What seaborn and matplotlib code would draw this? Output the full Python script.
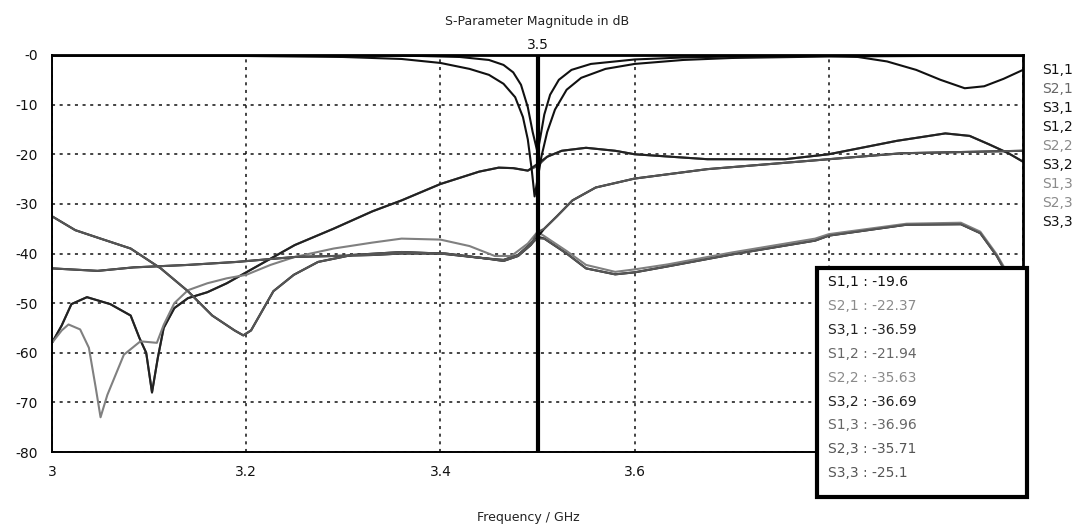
import matplotlib
matplotlib.use("Agg")
import matplotlib.pyplot as plt
import matplotlib.transforms as mtransforms
from matplotlib.patches import Rectangle
import pandas as pd
import seaborn as sns

# ---- S-parameter traces (frequency in GHz, magnitude in dB) ----
freq_s11 = [3.0, 3.2, 3.3, 3.38, 3.42, 3.45, 3.465, 3.475, 3.483, 3.49,
            3.495, 3.5, 3.503, 3.507, 3.513, 3.522, 3.535, 3.555, 3.6, 3.65,
            3.7, 3.8, 3.83, 3.86, 3.89, 3.915, 3.94, 3.96, 3.98, 4.0]
s11_db = [-0.1, -0.1, -0.1, -0.2, -0.4, -1.0, -2.0, -3.5, -6.0, -10.5,
          -15.5, -19.6, -16.5, -12.0, -8.0, -5.0, -3.0, -1.8, -0.9, -0.5,
          -0.3, -0.2, -0.4, -1.3, -3.0, -5.0, -6.7, -6.3, -4.8, -3.0]

freq_s33 = [3.0, 3.2, 3.3, 3.36, 3.40, 3.43, 3.45, 3.465, 3.477, 3.485,
            3.49, 3.494, 3.497, 3.5, 3.504, 3.51, 3.518, 3.53, 3.545, 3.57,
            3.6, 3.65, 3.7, 3.8, 3.9, 4.0]
s33_db = [-0.1, -0.2, -0.4, -0.8, -1.6, -2.8, -4.0, -5.8, -8.5, -12.5,
          -17.0, -23.0, -28.5, -25.1, -20.5, -15.5, -11.0, -7.0, -4.6, -2.8,
          -1.8, -1.0, -0.6, -0.3, -0.2, -0.2]

freq_s21 = [3.0, 3.01, 3.02, 3.036, 3.06, 3.081, 3.09, 3.097, 3.103, 3.109,
            3.115, 3.126, 3.14, 3.16, 3.18, 3.2, 3.23, 3.25, 3.29, 3.33,
            3.36, 3.4, 3.44, 3.46, 3.475, 3.49, 3.5, 3.51, 3.525, 3.55,
            3.58, 3.6, 3.675, 3.755, 3.8, 3.87, 3.92, 3.945, 3.965, 3.985,
            4.0]
s21_db = [-58, -54.5, -50.2, -48.8, -50.2, -52.5, -57, -60, -68, -61,
          -55, -51, -49, -47.8, -46, -43.8, -40.5, -38.3, -35, -31.5,
          -29.3, -26, -23.5, -22.7, -22.8, -23.3, -22.37, -20.5, -19.3, -18.7,
          -19.3, -20, -21, -21, -20, -17.3, -15.8, -16.3, -18, -19.8,
          -21.5]
s12_db = [-58, -54.5, -50.2, -48.8, -50.2, -52.5, -57, -60, -68, -61,
          -55, -51, -49, -47.8, -46, -43.8, -40.5, -38.3, -35, -31.5,
          -29.3, -26, -23.5, -22.7, -22.8, -23.3, -21.94, -20.5, -19.3, -18.7,
          -19.3, -20, -21, -21, -20, -17.3, -15.8, -16.3, -18, -19.8,
          -21.5]

freq_s22 = [3.0, 3.01, 3.017, 3.029, 3.038, 3.045, 3.05, 3.057, 3.074, 3.091,
            3.108, 3.115, 3.126, 3.14, 3.16, 3.18, 3.2, 3.225, 3.25, 3.29,
            3.33, 3.36, 3.4, 3.43, 3.456, 3.473, 3.49, 3.5, 3.507, 3.53,
            3.55, 3.58, 3.6, 3.634, 3.7, 3.786, 3.8, 3.88, 3.936, 3.956,
            3.973, 3.99, 4.0]
s22_db = [-58, -55.5, -54.3, -55.3, -59, -67, -73, -68.5, -60.4, -57.7,
          -58, -54.4, -50, -47.4, -46, -45, -44.3, -42.3, -40.7, -39,
          -37.8, -37, -37.2, -38.5, -40.5, -40.5, -38, -35.63, -36.5, -39.5,
          -42.3, -43.7, -43.2, -42.2, -39.8, -37, -36.1, -34, -33.8, -35.6,
          -40.2, -46, -49]

freq_s31 = [3.0, 3.024, 3.05, 3.081, 3.112, 3.14, 3.165, 3.188, 3.197, 3.205,
            3.228, 3.249, 3.274, 3.309, 3.36, 3.4, 3.447, 3.465, 3.48, 3.493,
            3.5, 3.507, 3.53, 3.55, 3.58, 3.6, 3.634, 3.7, 3.786, 3.8,
            3.88, 3.936, 3.956, 3.973, 3.99, 4.0]
s31_db = [-32.5, -35.3, -37, -39, -43, -47.6, -52.5, -55.5, -56.5, -55.5,
          -47.6, -44.3, -41.7, -40.3, -39.7, -40, -41, -41.3, -40.3, -38,
          -36.59, -37, -40, -43, -44.2, -43.8, -42.6, -40.2, -37.4, -36.4,
          -34.2, -34.1, -35.9, -40.5, -46.5, -50]
s13_db = [-32.5, -35.3, -37, -39, -43, -47.6, -52.5, -55.5, -56.5, -55.5,
          -47.6, -44.3, -41.7, -40.3, -39.7, -40, -41, -41.3, -40.3, -38,
          -36.96, -37, -40, -43, -44.2, -43.8, -42.6, -40.2, -37.4, -36.4,
          -34.2, -34.1, -35.9, -40.5, -46.5, -50]

freq_s32 = [3.0, 3.047, 3.084, 3.14, 3.19, 3.25, 3.33, 3.36, 3.405, 3.447,
            3.465, 3.48, 3.493, 3.5, 3.507, 3.52, 3.536, 3.56, 3.6, 3.675,
            3.7, 3.8, 3.875, 4.0]
s32_db = [-43, -43.5, -42.8, -42.3, -41.7, -40.7, -40.3, -40, -40, -41,
          -41.5, -40.5, -38.3, -36.69, -35, -32.5, -29.3, -26.7, -24.9, -23,
          -22.6, -21, -19.8, -19.3]
s23_db = [-43, -43.5, -42.8, -42.3, -41.7, -40.7, -40.3, -40, -40, -41,
          -41.5, -40.5, -38.3, -35.71, -35, -32.5, -29.3, -26.7, -24.9, -23,
          -22.6, -21, -19.8, -19.3]

series_names = ["S1,1", "S2,1", "S3,1", "S1,2", "S2,2", "S3,2", "S1,3", "S2,3", "S3,3"]
series_freq = [freq_s11, freq_s21, freq_s31, freq_s21, freq_s22, freq_s32, freq_s31, freq_s32, freq_s33]
series_db = [s11_db, s21_db, s31_db, s12_db, s22_db, s32_db, s13_db, s23_db, s33_db]

marker_freq = 3.5
x_ticks = [3.0, 3.2, 3.4, 3.6, 3.8, 4.0]
# the 3.8 and 4 labels sit under the read-out box, so they are left blank
x_tick_labels = ["3", "3.2", "3.4", "3.6", "", ""]
y_ticks = [-80, -70, -60, -50, -40, -30, -20, -10, 0]
y_tick_labels = ["-80", "-70", "-60", "-50", "-40", "-30", "-20", "-10", "-0"]

line_colors = ["#111111", "#555555", "#111111", "#222222", "#808080",
               "#111111", "#555555", "#555555", "#111111"]
label_colors = ["#111111", "#666666", "#111111", "#111111", "#8a8a8a",
                "#111111", "#8a8a8a", "#8a8a8a", "#111111"]
box_colors = ["#111111", "#8a8a8a", "#222222", "#666666", "#8a8a8a",
              "#222222", "#666666", "#555555", "#555555"]

rows = []
for name, fr, db in zip(series_names, series_freq, series_db):
    for f, v in zip(fr, db):
        rows.append({"series": name, "freq": f, "db": v})
df = pd.DataFrame(rows)

sns.set_theme(style="white")
plt.rcParams["font.family"] = ["DejaVu Sans"]

W, H = 1083, 528
fig = plt.figure(figsize=(W / 100, H / 100), dpi=100)
ax_l, ax_r, ax_t, ax_b = 52, 1023, 55, 452
ax = fig.add_axes([ax_l / W, 1 - ax_b / H, (ax_r - ax_l) / W, (ax_b - ax_t) / H])

sns.lineplot(data=df, x="freq", y="db", hue="series", hue_order=series_names,
             palette=dict(zip(series_names, line_colors)), estimator=None,
             sort=False, linewidth=1.5, legend=False, ax=ax)

ax.set_xlim(3.0, 4.0)
ax.set_ylim(-80, 0)
ax.set_xticks(x_ticks)
ax.set_xticklabels(x_tick_labels)
ax.set_yticks(y_ticks)
ax.set_yticklabels(y_tick_labels)
ax.set_xlabel("")
ax.set_ylabel("")
ax.tick_params(axis="both", length=0, labelsize=10, colors="#111111")
ax.tick_params(axis="y", pad=10)
ax.tick_params(axis="x", pad=9)
ax.grid(True, color="#111111", linestyle=(0, (2, 3)), linewidth=1.1)

for side in ("top", "right"):
    ax.spines[side].set_color("black")
    ax.spines[side].set_linewidth(2.0)
for side in ("left", "bottom"):
    ax.spines[side].set_color("black")
    ax.spines[side].set_linewidth(1.4)
    ax.spines[side].set_linestyle((0, (1, 1)))

# frequency marker
ax.axvline(marker_freq, color="black", linewidth=3, zorder=5)
trans = mtransforms.blended_transform_factory(ax.transData, ax.transAxes)
ax.text(marker_freq, 1.008, "3.5", transform=trans, ha="center", va="bottom",
        fontsize=10, color="#111111")

fig.text((ax_l + ax_r) / 2 / W, 1 - 22 / H, "S-Parameter Magnitude in dB",
         ha="center", va="center", fontsize=9, color="#222222")
fig.text(528 / W, 1 - 517 / H, "Frequency / GHz", ha="center", va="center",
         fontsize=9, color="#222222")

# trace names beside the plot
for i, (name, col) in enumerate(zip(series_names, label_colors)):
    fig.text(1042 / W, 1 - (70 + i * 19) / H, name, ha="left", va="center",
             fontsize=10, color=col)

# marker read-out box
bx0, bx1, by0, by1 = 817, 1027, 268, 497
fig.patches.append(Rectangle((bx0 / W, 1 - by1 / H), (bx1 - bx0) / W, (by1 - by0) / H,
                             transform=fig.transFigure, facecolor="white",
                             edgecolor="black", linewidth=3, zorder=5))
for i, (name, fr, db, col) in enumerate(zip(series_names, series_freq, series_db, box_colors)):
    val = db[fr.index(marker_freq)]
    fig.text(828 / W, 1 - (282 + i * 23.9) / H, f"{name} : {val:g}", ha="left",
             va="center", fontsize=10, color=col, zorder=6)

fig.savefig("out.png", dpi=100, facecolor="white")
